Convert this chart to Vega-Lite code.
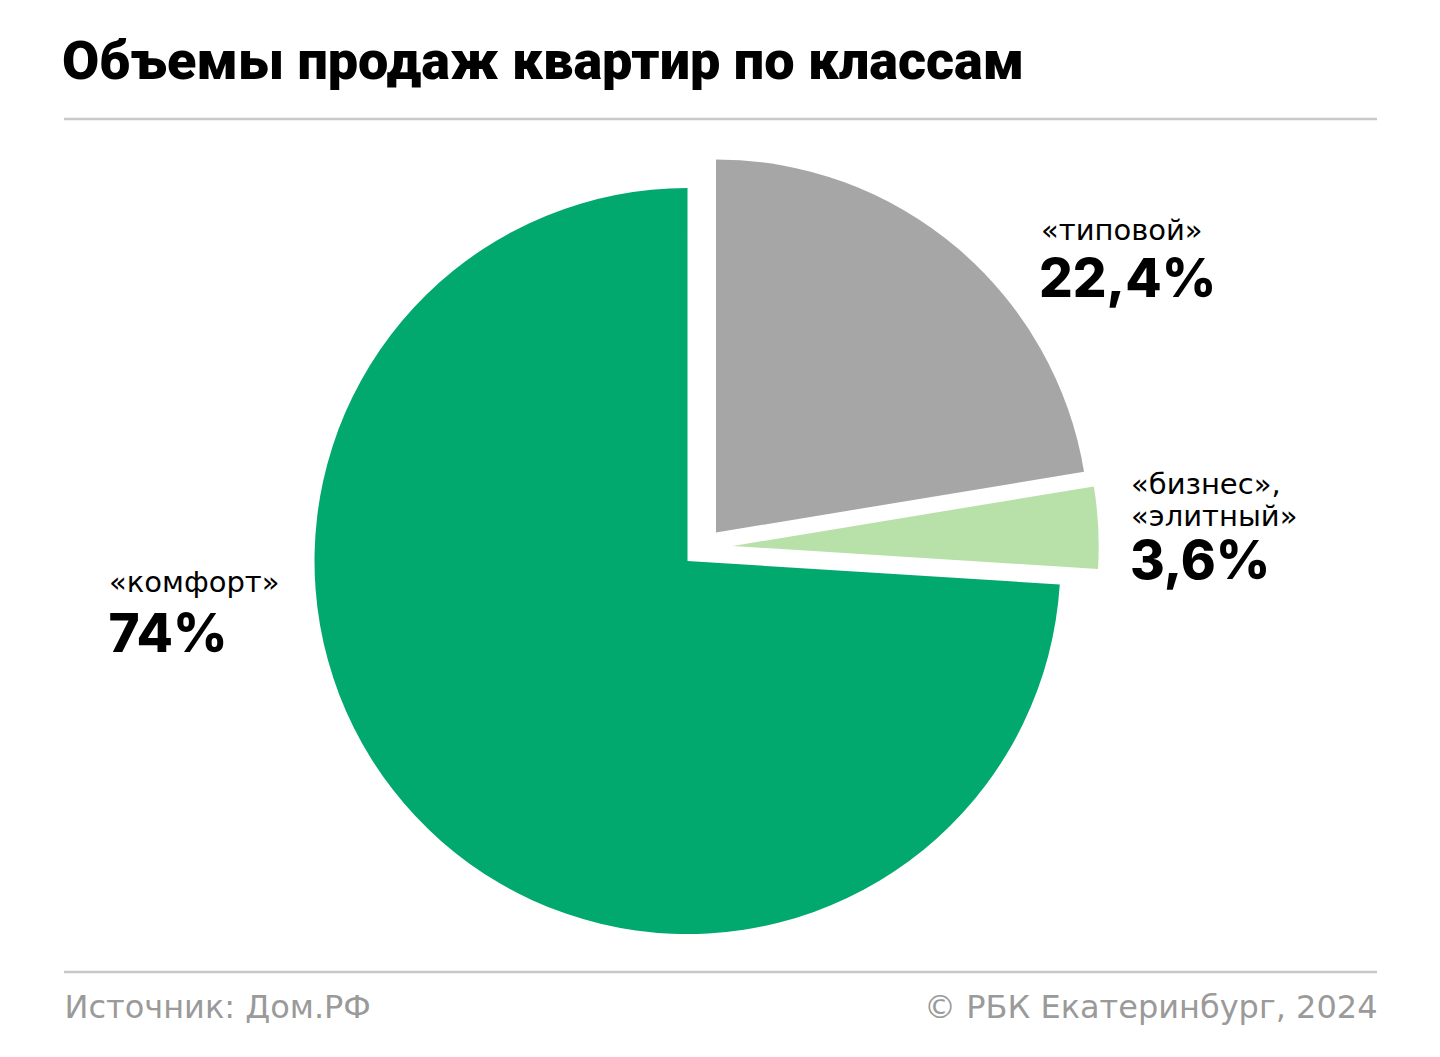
{
  "$schema": "https://vega.github.io/schema/vega-lite/v6.json",
  "width": 1313,
  "height": 853,
  "autosize": {"type": "none"},
  "padding": {"left": 64, "top": 119, "right": 63, "bottom": 85},
  "background": "#ffffff",
  "title": {
    "text": "Объемы продаж квартир по классам",
    "anchor": "start",
    "frame": "group",
    "font": "Roboto",
    "fontSize": 54,
    "fontWeight": 900,
    "color": "#000000",
    "baseline": "alphabetic",
    "offset": -15,
    "dx": -2
  },
  "config": {
    "view": {"stroke": null},
    "locale": {"number": {"decimal": ",", "thousands": " ", "grouping": [3], "currency": ["", " ₽"]}}
  },
  "layer": [
    {
      "data": {"values": [{}]},
      "mark": {"type": "rule", "color": "#c8c8c8", "strokeWidth": 2.5},
      "encoding": {"y": {"datum": 1, "type": "quantitative", "scale": {"domain": [0, 1]}, "axis": null}}
    },
    {
      "data": {"values": [{}]},
      "mark": {"type": "rule", "color": "#c8c8c8", "strokeWidth": 2.5},
      "encoding": {"y": {"datum": 0, "type": "quantitative"}}
    },
    {
      "data": {"values": [{"src": "Источник: Дом.РФ"}, {"src": "© РБК Екатеринбург, 2024"}]},
      "mark": {"type": "point", "opacity": 0},
      "encoding": {
        "x": {
          "field": "src", "type": "nominal", "sort": null,
          "scale": {"type": "point", "padding": 0},
          "axis": {
            "title": null, "domain": false, "ticks": false, "tickSize": 0, "grid": false,
            "labelFlush": true, "labelAngle": 0, "labelBaseline": "alphabetic", "labelPadding": 45,
            "labelFont": "DejaVu Sans", "labelFontSize": 32, "labelColor": "#9a9a9a", "labelOverlap": false, "labelLimit": 0
          }
        }
      }
    },
    {
      "data": {"values": [
        {"kind": "типовой", "label": "«типовой»", "share": 0.224},
        {"kind": "бизнес", "label": "«бизнес»,\n«элитный»", "share": 0.036},
        {"kind": "комфорт", "label": "«комфорт»", "share": 0.74}
      ]},
      "transform": [{"stack": "share", "groupby": [], "as": ["s0", "s1"]}],
      "layer": [
        {
          "transform": [{"filter": {"field": "kind", "equal": "комфорт"}}],
          "mark": {"type": "arc", "x": 623.5, "y": 442, "radius": 373, "color": "#02a96f"},
          "encoding": {
            "theta": {"field": "s0", "type": "quantitative", "scale": {"domain": [0, 1]}, "stack": null},
            "theta2": {"field": "s1"}
          }
        },
        {
          "transform": [{"filter": {"field": "kind", "equal": "типовой"}}],
          "mark": {"type": "arc", "x": 652, "y": 413.5, "radius": 373, "color": "#a6a6a6"},
          "encoding": {
            "theta": {"field": "s0", "type": "quantitative", "stack": null},
            "theta2": {"field": "s1"}
          }
        },
        {
          "transform": [{"filter": {"field": "kind", "equal": "бизнес"}}],
          "mark": {"type": "arc", "x": 668.7, "y": 427, "radius": 366, "color": "#b8e0a9"},
          "encoding": {
            "theta": {"field": "s0", "type": "quantitative", "stack": null},
            "theta2": {"field": "s1"}
          }
        },
        {
          "transform": [{"filter": {"field": "kind", "equal": "типовой"}}],
          "mark": {"type": "text", "x": 977, "y": 121, "align": "left", "baseline": "alphabetic", "font": "DejaVu Sans", "fontSize": 29, "color": "#000000"},
          "encoding": {"text": {"field": "label"}}
        },
        {
          "transform": [{"filter": {"field": "kind", "equal": "типовой"}}],
          "mark": {"type": "text", "x": 975, "y": 177.7, "align": "left", "baseline": "alphabetic", "font": "Inter", "fontSize": 53, "fontWeight": 800, "color": "#000000"},
          "encoding": {"text": {"field": "share", "type": "quantitative", "format": ".3~%"}}
        },
        {
          "transform": [{"filter": {"field": "kind", "equal": "бизнес"}}],
          "mark": {"type": "text", "x": 1067, "y": 375.3, "align": "left", "baseline": "alphabetic", "lineBreak": "\n", "lineHeight": 32, "font": "DejaVu Sans", "fontSize": 29, "color": "#000000"},
          "encoding": {"text": {"field": "label"}}
        },
        {
          "transform": [{"filter": {"field": "kind", "equal": "бизнес"}}],
          "mark": {"type": "text", "x": 1066, "y": 460, "align": "left", "baseline": "alphabetic", "font": "Inter", "fontSize": 53, "fontWeight": 800, "color": "#000000"},
          "encoding": {"text": {"field": "share", "type": "quantitative", "format": ".3~%"}}
        },
        {
          "transform": [{"filter": {"field": "kind", "equal": "комфорт"}}],
          "mark": {"type": "text", "x": 45, "y": 473.3, "align": "left", "baseline": "alphabetic", "font": "DejaVu Sans", "fontSize": 29, "color": "#000000"},
          "encoding": {"text": {"field": "label"}}
        },
        {
          "transform": [{"filter": {"field": "kind", "equal": "комфорт"}}],
          "mark": {"type": "text", "x": 44.5, "y": 532.7, "align": "left", "baseline": "alphabetic", "font": "Inter", "fontSize": 53, "fontWeight": 800, "color": "#000000"},
          "encoding": {"text": {"field": "share", "type": "quantitative", "format": ".3~%"}}
        }
      ]
    }
  ]
}
